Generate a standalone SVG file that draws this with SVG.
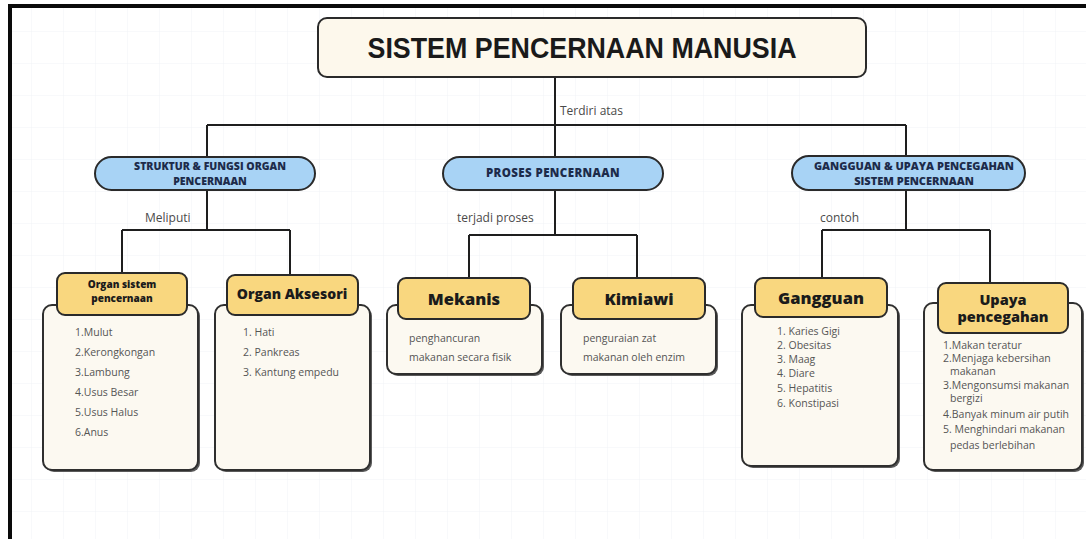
<svg xmlns="http://www.w3.org/2000/svg" width="1086" height="539" viewBox="0 0 1086 539">
<defs>
<pattern id="grid" width="32" height="32" patternUnits="userSpaceOnUse">
<path d="M32 0V32M0 32H32" fill="none" stroke="#f0f3f6" stroke-width="1"/>
</pattern>
<style>
.title{fill:#fdf8ec;stroke:#2a2a2a;stroke-width:2}
.pill{fill:#a8d3f5;stroke:#2a2a2a;stroke-width:2}
.hdr{fill:#f9d77f;stroke:#2a2a2a;stroke-width:2}
.body{fill:#fcf9f1;stroke:#2f2f2f;stroke-width:2}
.shadow{fill:#5a5a5a}
.conn line, .conn path{stroke:#1e1e1e;stroke-width:2;fill:none}
.lbl{font-family:"Open Sans","Liberation Sans",sans-serif;font-size:12px;fill:#4a4a4a}
.ptxt{font-family:"Open Sans","Liberation Sans",sans-serif;font-weight:800;fill:#1d2b4a;text-anchor:middle}
.htxt{font-family:"Open Sans","Liberation Sans",sans-serif;font-weight:800;fill:#1b1b1b;text-anchor:middle}
.item{font-family:"Open Sans","Liberation Sans",sans-serif;font-size:10.5px;fill:#555}
</style>
</defs>
<rect x="0" y="0" width="1086" height="539" fill="#ffffff"/>
<rect x="10" y="6" width="1076" height="533" fill="url(#grid)"/>
<path d="M10 539V6H1086" fill="none" stroke="#0a0a0a" stroke-width="4"/>

<g class="conn" id="connectors">
<line x1="555" y1="77" x2="555" y2="125"/>
<line x1="207" y1="125" x2="906" y2="125"/>
<line x1="207" y1="125" x2="207" y2="157"/>
<line x1="555" y1="125" x2="555" y2="157"/>
<line x1="906" y1="125" x2="906" y2="156"/>
<line x1="207" y1="190" x2="207" y2="230"/>
<line x1="122" y1="230" x2="290" y2="230"/>
<line x1="122" y1="230" x2="122" y2="273"/>
<line x1="290" y1="230" x2="290" y2="275"/>
<line x1="555" y1="190" x2="555" y2="235"/>
<line x1="469" y1="235" x2="637" y2="235"/>
<line x1="469" y1="235" x2="469" y2="278"/>
<line x1="637" y1="235" x2="637" y2="278"/>
<line x1="906" y1="190" x2="906" y2="230"/>
<line x1="822" y1="230" x2="990" y2="230"/>
<line x1="822" y1="230" x2="822" y2="278"/>
<line x1="990" y1="230" x2="990" y2="283"/>
<text class="lbl" x="560" y="115">Terdiri atas</text>
<text class="lbl" x="145" y="222">Meliputi</text>
<text class="lbl" x="457" y="222">terjadi proses</text>
<text class="lbl" x="820" y="222">contoh</text>
</g>

<g id="title">
<rect class="title" x="318" y="18" width="548" height="59" rx="9"/>
<text x="582" y="58" text-anchor="middle" font-family="'Liberation Sans',Arial,sans-serif" font-weight="700" font-size="29" textLength="429" lengthAdjust="spacingAndGlyphs" fill="#1a1a1a">SISTEM PENCERNAAN MANUSIA</text>
</g>

<g id="struktur">
<rect class="pill" x="95" y="157" width="220" height="33" rx="16.5"/>
<text class="ptxt" font-size="10.5" x="210" y="170">STRUKTUR &amp; FUNGSI ORGAN</text>
<text class="ptxt" font-size="10.5" x="210" y="185">PENCERNAAN</text>
</g>

<g id="proses">
<rect class="pill" x="443" y="157" width="220" height="33" rx="16.5"/>
<text class="ptxt" font-size="11.5" letter-spacing="0.4" x="553" y="177">PROSES PENCERNAAN</text>
</g>

<g id="gangguan-upaya">
<rect class="pill" x="792" y="156" width="233" height="34" rx="17"/>
<text class="ptxt" font-size="11" x="914" y="170">GANGGUAN  &amp; UPAYA PENCEGAHAN</text>
<text class="ptxt" font-size="11" x="914" y="185">SISTEM PENCERNAAN</text>
</g>

<g id="organ-sistem">
<rect class="shadow" x="45" y="307" width="155" height="165" rx="9"/>
<rect class="body" x="43" y="305" width="155" height="165" rx="9"/>
<rect class="hdr" x="57" y="273" width="130" height="42" rx="8"/>
<text class="htxt" font-size="10" x="122" y="288">Organ sistem</text>
<text class="htxt" font-size="10" x="122" y="302">pencernaan</text>
<text class="item" x="75" y="336">1.Mulut</text>
<text class="item" x="75" y="356">2.Kerongkongan</text>
<text class="item" x="75" y="376">3.Lambung</text>
<text class="item" x="75" y="396">4.Usus Besar</text>
<text class="item" x="75" y="416">5.Usus Halus</text>
<text class="item" x="75" y="436">6.Anus</text>
</g>

<g id="organ-aksesori">
<rect class="shadow" x="217" y="307" width="155" height="165" rx="9"/>
<rect class="body" x="215" y="305" width="155" height="165" rx="9"/>
<rect class="hdr" x="227" y="275" width="131" height="40" rx="8"/>
<text class="htxt" font-size="14" x="292" y="299">Organ Aksesori</text>
<text class="item" x="243" y="336">1. Hati</text>
<text class="item" x="243" y="356">2. Pankreas</text>
<text class="item" x="243" y="376">3. Kantung empedu</text>
</g>

<g id="mekanis">
<rect class="shadow" x="389" y="307" width="155" height="69" rx="9"/>
<rect class="body" x="387" y="305" width="155" height="69" rx="9"/>
<rect class="hdr" x="398" y="278" width="132" height="41" rx="8"/>
<text class="htxt" font-size="16.5" x="464" y="305">Mekanis</text>
<text class="item" x="409" y="342">penghancuran</text>
<text class="item" x="409" y="361">makanan secara fisik</text>
</g>

<g id="kimiawi">
<rect class="shadow" x="563" y="307" width="155" height="69" rx="9"/>
<rect class="body" x="561" y="305" width="155" height="69" rx="9"/>
<rect class="hdr" x="573" y="278" width="132" height="41" rx="8"/>
<text class="htxt" font-size="16.5" x="639" y="305">Kimiawi</text>
<text class="item" x="583" y="342">penguraian zat</text>
<text class="item" x="583" y="361">makanan oleh enzim</text>
</g>

<g id="gangguan">
<rect class="shadow" x="744" y="307" width="156" height="161" rx="9"/>
<rect class="body" x="742" y="305" width="156" height="161" rx="9"/>
<rect class="hdr" x="755" y="278" width="132" height="39" rx="8"/>
<text class="htxt" font-size="16.5" x="821" y="304">Gangguan</text>
<text class="item" font-size="10" x="777" y="335">1. Karies Gigi</text>
<text class="item" font-size="10" x="777" y="349">2. Obesitas</text>
<text class="item" font-size="10" x="777" y="363">3. Maag</text>
<text class="item" font-size="10" x="777" y="377">4. Diare</text>
<text class="item" font-size="10" x="777" y="392">5. Hepatitis</text>
<text class="item" font-size="10" x="777" y="407">6. Konstipasi</text>
</g>

<g id="upaya">
<rect class="shadow" x="926" y="305" width="158" height="167" rx="9"/>
<rect class="body" x="924" y="303" width="158" height="167" rx="9"/>
<rect class="hdr" x="938" y="283" width="130" height="50" rx="8"/>
<text class="htxt" font-size="14.5" x="1003" y="305">Upaya</text>
<text class="htxt" font-size="14.5" x="1003" y="322">pencegahan</text>
<text class="item" font-size="9.5" x="943" y="349">1.Makan teratur</text>
<text class="item" font-size="9.5" x="943" y="362">2.Menjaga kebersihan</text>
<text class="item" font-size="9.5" x="950" y="375">makanan</text>
<text class="item" font-size="9.5" x="943" y="389">3.Mengonsumsi makanan</text>
<text class="item" font-size="9.5" x="950" y="402">bergizi</text>
<text class="item" font-size="9.5" x="943" y="418">4.Banyak minum air putih</text>
<text class="item" font-size="9.5" x="943" y="433">5. Menghindari makanan</text>
<text class="item" font-size="9.5" x="950" y="449">pedas berlebihan</text>
</g>
</svg>
